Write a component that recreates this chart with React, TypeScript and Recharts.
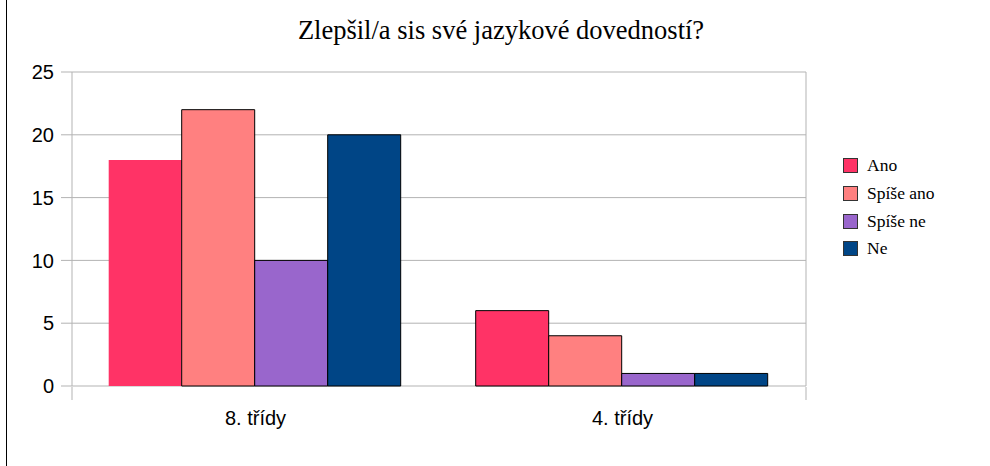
import React from "react";
import {
  BarChart,
  Bar,
  XAxis,
  YAxis,
  CartesianGrid,
  Legend,
  Cell,
} from "recharts";

const categories = ["8. třídy", "4. třídy"];
const ano = [18, 6];
const spiseAno = [22, 4];
const spiseNe = [10, 1];
const ne = [20, 1];
const yTicks = [0, 5, 10, 15, 20, 25];
// boundaries between categories on a helper numeric axis (0 .. categories.length)
const edgeTicks = [0, 1, 2];

const seriesNames = ["Ano", "Spíše ano", "Spíše ne", "Ne"];
const seriesColors = ["#ff3366", "#ff8080", "#9966cc", "#004586"];
const seriesKeys = ["ano", "spiseAno", "spiseNe", "ne"];

const data = categories.map((name, i) => ({
  name,
  ano: ano[i],
  spiseAno: spiseAno[i],
  spiseNe: spiseNe[i],
  ne: ne[i],
}));

const GRID = "#b3b3b3";

const renderLegend = () => (
  <div style={{ fontFamily: "'Liberation Serif', serif", fontSize: 17.5, color: "#000" }}>
    {seriesNames.map((n, i) => (
      <div key={n} style={{ display: "flex", alignItems: "center", height: 27.7 }}>
        <span
          style={{
            display: "inline-block",
            width: 13,
            height: 13,
            background: seriesColors[i],
            border: "1px solid #333",
            marginRight: 9,
          }}
        />
        <span>{n}</span>
      </div>
    ))}
  </div>
);

const EmptyTick = () => <g />;

// right frame of the plot area: the last category boundary
const rightEdge = (props: any) => {
  const { xAxis, offset } = props || {};
  if (xAxis && typeof xAxis.scale === "function") {
    return [xAxis.scale(edgeTicks[edgeTicks.length - 1])];
  }
  return offset ? [offset.left + offset.width] : [];
};

export default function App() {
  return (
    <div style={{ position: "absolute", left: 0, top: 0, width: 990, height: 466, background: "#fff" }}>
      <div
        style={{
          position: "absolute",
          left: 6,
          top: 0,
          width: 1,
          height: 466,
          background: "#000",
        }}
      />
      <div
        style={{
          position: "absolute",
          left: 0,
          width: 1002,
          top: 14,
          textAlign: "center",
          fontFamily: "'Liberation Serif', serif",
          fontSize: 26.5,
          color: "#000",
          lineHeight: "32px",
        }}
      >
        Zlepšil/a sis své jazykové dovedností?
      </div>
      <BarChart
        width={990}
        height={466}
        data={data}
        margin={{ top: 72, right: 184, bottom: 78, left: 0 }}
        barCategoryGap="10%"
        barGap={0}
        style={{ position: "absolute", left: 0, top: 0 }}
      >
        <CartesianGrid vertical={false} stroke={GRID} />
        <CartesianGrid
          xAxisId="edge"
          horizontal={false}
          stroke={GRID}
          verticalCoordinatesGenerator={rightEdge}
        />
        <XAxis
          dataKey="name"
          height={1}
          axisLine={false}
          tickLine={false}
          tickSize={0}
          tickMargin={25}
          tick={{ fill: "#000", fontSize: 20, fontFamily: "'Liberation Sans', Arial, sans-serif" }}
        />
        <XAxis
          xAxisId="edge"
          type="number"
          domain={[0, 2]}
          allowDataOverflow
          ticks={edgeTicks}
          interval={0}
          height={1}
          axisLine={false}
          tick={EmptyTick}
          tickSize={13}
          tickLine={{ stroke: GRID }}
        />
        <YAxis
          width={72}
          domain={[0, 25]}
          ticks={yTicks}
          interval={0}
          tickSize={11}
          tickMargin={7}
          axisLine={{ stroke: GRID }}
          tickLine={{ stroke: GRID }}
          tick={{ fill: "#000", fontSize: 20, fontFamily: "'Liberation Sans', Arial, sans-serif" }}
        />
        <Legend
          content={renderLegend}
          layout="horizontal"
          verticalAlign="middle"
          align="center"
          wrapperStyle={{ left: 843, top: 152, width: 140 }}
        />
        {seriesKeys.map((k, si) => (
          <Bar
            key={k}
            dataKey={k}
            name={seriesNames[si]}
            fill={seriesColors[si]}
            stroke="#000"
            strokeWidth={1}
            isAnimationActive={false}
          >
            {data.map((_, ci) => (
              <Cell
                key={ci}
                fill={seriesColors[si]}
                stroke={si === 0 && ci === 0 ? "none" : "#000"}
              />
            ))}
          </Bar>
        ))}
      </BarChart>
    </div>
  );
}
